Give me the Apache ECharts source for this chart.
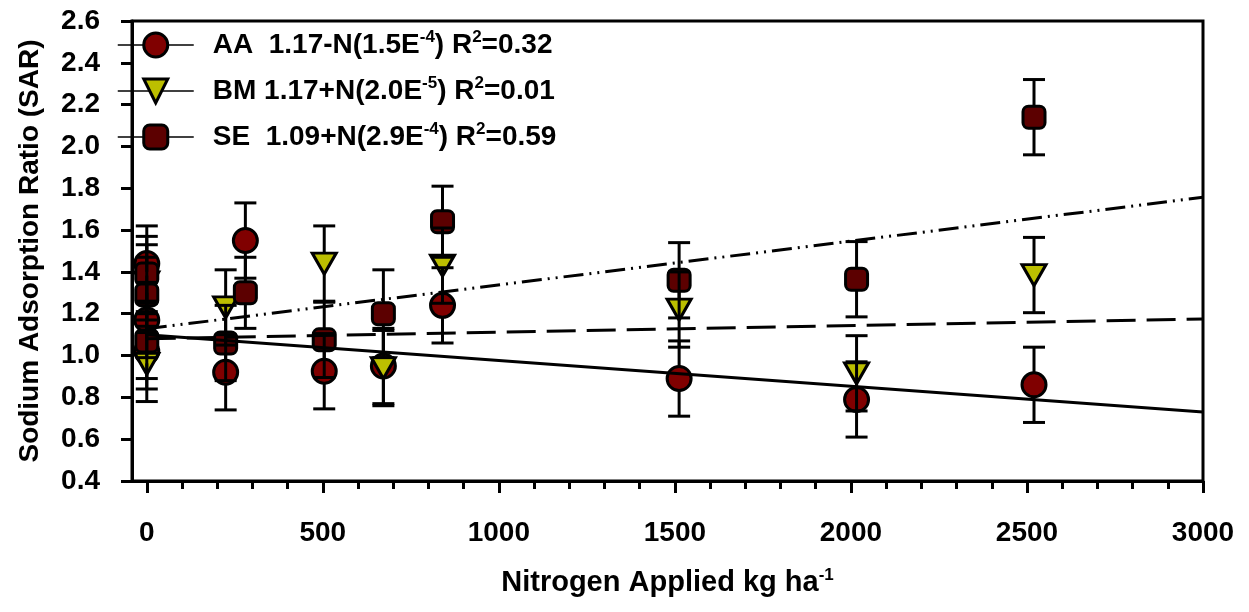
<!DOCTYPE html>
<html><head><meta charset="utf-8">
<script src="https://cdn.jsdelivr.net/npm/echarts@6/dist/echarts.min.js"></script>
<style>html,body{margin:0;padding:0;background:#fff}#c{width:1249px;height:612px}</style>
</head><body><div id="c"></div>
<script>
const FONT = "'Liberation Sans','Arial',sans-serif";

const seriesNames = ['AA', 'BM', 'SE'];
const legendLabels = [
  'AA  1.17-N(1.5E{sup|-4}) R{sup|2}=0.32',
  'BM 1.17+N(2.0E{sup|-5}) R{sup|2}=0.01',
  'SE  1.09+N(2.9E{sup|-4}) R{sup|2}=0.59'
];

// AA
const aaN   = [0, 0, 0, 224, 280, 504, 672, 840, 1512, 2016, 2520];
const aaSAR = [1.44, 1.17, 1.02, 0.92, 1.55, 0.925, 0.95, 1.24, 0.89, 0.79, 0.86];
const aaErr = [0.18, 0.18, 0.18, 0.18, 0.18, 0.18, 0.18, 0.18, 0.18, 0.18, 0.18];
// BM
const bmN   = [0, 0, 224, 504, 672, 840, 1512, 2016, 2520];
const bmSAR = [1.35, 0.96, 1.23, 1.44, 0.94, 1.43, 1.22, 0.915, 1.385];
const bmErr = [0.18, 0.18, 0.18, 0.18, 0.18, 0.18, 0.18, 0.18, 0.18];
// SE
const seN   = [0, 0, 0, 224, 280, 504, 672, 840, 1512, 2016, 2520];
const seSAR = [1.39, 1.29, 1.07, 1.06, 1.30, 1.075, 1.20, 1.64, 1.36, 1.365, 2.14];
const seErr = [0.18, 0.18, 0.18, 0.18, 0.17, 0.18, 0.21, 0.17, 0.18, 0.18, 0.18];

// fitted lines (end points)
const aaTrendN = [0, 3000], aaTrendSAR = [1.10, 0.73];
const bmTrendN = [0, 3000], bmTrendSAR = [1.08, 1.175];
const seTrendN = [0, 3000], seTrendSAR = [1.128, 1.757];

const xMajorTicks = [0, 500, 1000, 1500, 2000, 2500, 3000];
const xMinorTicks = [100, 200, 300, 400, 600, 700, 800, 900, 1100, 1200, 1300, 1400,
  1600, 1700, 1800, 1900, 2100, 2200, 2300, 2400, 2600, 2700, 2800, 2900];
const yTicks = [0.4, 0.6, 0.8, 1.0, 1.2, 1.4, 1.6, 1.8, 2.0, 2.2, 2.4, 2.6];

const colors = { AA: '#800000', BM: '#bcbf00', SE: '#5c0000' };

function pairs(xs, ys) { return xs.map((x, i) => [x, ys[i]]); }
function triples(xs, ys, es) { return xs.map((x, i) => [x, ys[i], es[i]]); }

function errRender(halfUp, halfDown) {
  return function (params, api) {
    const x = api.value(0), y = api.value(1), e = api.value(2);
    const c = api.coord([x, y]);
    const t = api.coord([x, y + e]);
    const b = api.coord([x, y - e]);
    const w = 11;
    const style = { stroke: '#000', lineWidth: 3 };
    const ch = [];
    if (c[1] - halfUp > t[1]) ch.push({ type: 'line', shape: { x1: c[0], y1: c[1] - halfUp, x2: c[0], y2: t[1] }, style });
    ch.push({ type: 'line', shape: { x1: c[0] - w, y1: t[1], x2: c[0] + w, y2: t[1] }, style });
    if (c[1] + halfDown < b[1]) ch.push({ type: 'line', shape: { x1: c[0], y1: c[1] + halfDown, x2: c[0], y2: b[1] }, style });
    ch.push({ type: 'line', shape: { x1: c[0] - w, y1: b[1], x2: c[0] + w, y2: b[1] }, style });
    return { type: 'group', children: ch };
  };
}

function markerSeries(name, data, symbol, size, rotate) {
  return {
    name, type: 'line', data, symbol, symbolSize: size, symbolRotate: rotate || 0,
    showSymbol: true, z: 2,
    lineStyle: { opacity: 0, width: 0 },
    itemStyle: { color: colors[name], borderColor: '#000', borderWidth: 3, opacity: 1 },
    emphasis: { disabled: true }
  };
}
function errSeries(data, up, down) {
  return { type: 'custom', data, renderItem: errRender(up, down), encode: { x: 0, y: 1 }, z: 3, silent: true };
}
function trendSeries(data, type) {
  return {
    type: 'line', data, showSymbol: false, symbol: 'none', z: 4, silent: true,
    lineStyle: { color: '#000', width: 3, type }
  };
}

const chart = echarts.init(document.getElementById('c'), null, { renderer: 'canvas' });
chart.setOption({
  animation: false,
  backgroundColor: '#fff',
  textStyle: { fontFamily: FONT, fontWeight: 'bold' },
  grid: { left: 132, right: 46, top: 21, bottom: 131, show: true, borderColor: '#000', borderWidth: 3, backgroundColor: 'transparent' },
  legend: {
    orient: 'vertical', left: 117, top: 29, padding: 0,
    itemWidth: 76, itemHeight: 30, itemGap: 14,
    selectedMode: false,
    data: seriesNames,
    itemStyle: { borderColor: '#000', borderWidth: 3 },
    lineStyle: { color: '#000', width: 1.5, type: 'solid', opacity: 1 },
    formatter: name => legendLabels[seriesNames.indexOf(name)],
    textStyle: {
      fontFamily: FONT, fontSize: 28, fontWeight: 'bold', color: '#000', lineHeight: 32, padding: [0, 0, 0, 14],
      rich: { sup: { fontFamily: FONT, fontSize: 17, fontWeight: 'bold', lineHeight: 17, verticalAlign: 'top', color: '#000' } }
    }
  },
  xAxis: [{
    type: 'value', min: -42, max: 3000, position: 'bottom',
    axisLine: { show: true, onZero: false, lineStyle: { color: '#000', width: 3 } },
    axisTick: { show: true, customValues: xMajorTicks, length: 12, lineStyle: { color: '#000', width: 3 } },
    axisLabel: { customValues: xMajorTicks, formatter: v => String(v), fontFamily: FONT, fontWeight: 'bold', fontSize: 28, color: '#000', margin: 38 },
    splitLine: { show: false },
    name: 'Nitrogen Applied kg ha{sup|-1}', nameLocation: 'middle', nameGap: 86,
    nameTextStyle: { fontFamily: FONT, fontSize: 29, fontWeight: 'bold', color: '#000', lineHeight: 32,
      rich: { sup: { fontFamily: FONT, fontSize: 17, fontWeight: 'bold', lineHeight: 17, verticalAlign: 'top', color: '#000' } } }
  }, {
    type: 'value', min: -42, max: 3000, position: 'bottom',
    axisLine: { show: false, onZero: false },
    axisTick: { show: true, customValues: xMinorTicks, length: 8, lineStyle: { color: '#000', width: 3 } },
    axisLabel: { show: false },
    splitLine: { show: false }
  }],
  yAxis: {
    type: 'value', min: 0.4, max: 2.6,
    axisLine: { show: true, onZero: false, lineStyle: { color: '#000', width: 3 } },
    axisTick: { show: true, customValues: yTicks, length: 11, lineStyle: { color: '#000', width: 3 } },
    axisLabel: { customValues: yTicks, formatter: v => v.toFixed(1), fontFamily: FONT, fontWeight: 'bold', fontSize: 28, color: '#000', margin: 32 },
    splitLine: { show: false },
    name: 'Sodium Adsorption Ratio (SAR)', nameLocation: 'middle', nameGap: 88,
    nameTextStyle: { fontFamily: FONT, fontSize: 28, fontWeight: 'bold', color: '#000' }
  },
  series: [
    markerSeries('AA', pairs(aaN, aaSAR), 'circle', 24),
    markerSeries('BM', pairs(bmN, bmSAR), 'triangle', [24, 21], 180),
    markerSeries('SE', pairs(seN, seSAR), 'roundRect', 22),
    errSeries(triples(aaN, aaSAR, aaErr), 12, 12),
    errSeries(triples(bmN, bmSAR, bmErr), 10.5, 10.5),
    errSeries(triples(seN, seSAR, seErr), 11, 11),
    trendSeries(pairs(aaTrendN, aaTrendSAR), 'solid'),
    trendSeries(pairs(bmTrendN, bmTrendSAR), [29, 11]),
    trendSeries(pairs(seTrendN, seTrendSAR), [20, 6, 2, 6, 2, 6])
  ]
});
</script>
</body></html>
